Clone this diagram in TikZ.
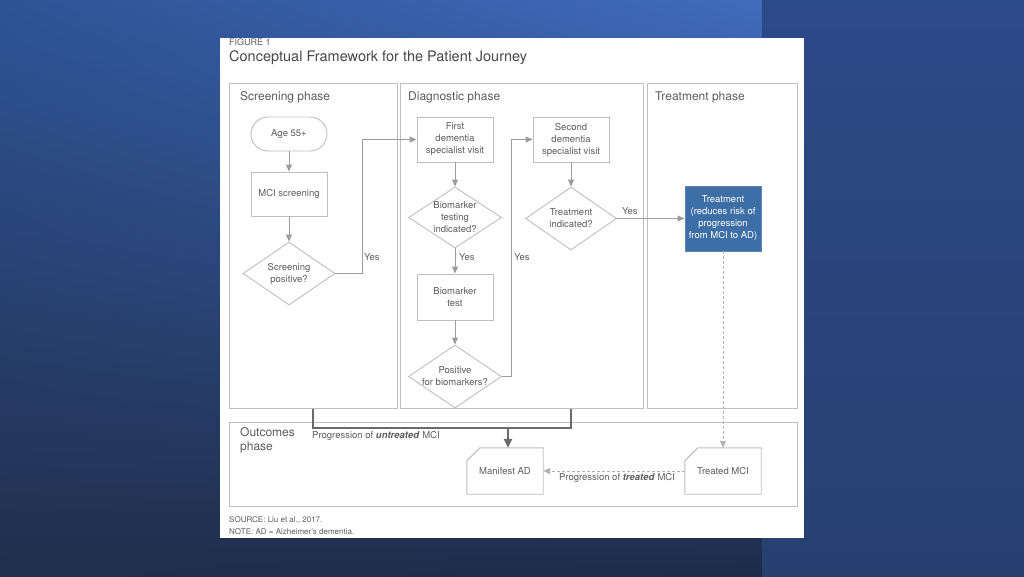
\documentclass[tikz,border=0pt]{standalone}
\usepackage{fontspec}
\setmainfont{TeX Gyre Heros}
\usetikzlibrary{arrows.meta,shapes.geometric,calc,shadings}
\definecolor{txt}{HTML}{5C5C5C}
\definecolor{ttl}{HTML}{474747}
\definecolor{bord}{HTML}{BEBEBE}
\definecolor{arr}{HTML}{9C9C9C}
\definecolor{thk}{HTML}{6A6A6A}
\definecolor{trtblue}{HTML}{3D6FA6}
\definecolor{trtbord}{HTML}{5B87B8}
\definecolor{bgul}{RGB}{46,84,150}
\definecolor{bgur}{RGB}{64,108,188}
\definecolor{bgll}{RGB}{33,46,76}
\definecolor{bglr}{RGB}{30,44,74}
\definecolor{rpt}{RGB}{43,74,136}
\definecolor{rpm}{RGB}{58,92,152}
\definecolor{rpb}{RGB}{40,64,112}
\begin{document}
\begin{tikzpicture}[x=1pt,y=-1pt,
  every node/.style={font=\fontsize{9.5}{12}\selectfont, text=txt},
  phasebox/.style={draw=bord, line width=0.9pt, anchor=north west, inner sep=0pt},
  phasetitle/.style={anchor=west, inner sep=0pt, font=\fontsize{12}{14}\selectfont, align=left},
  stepbox/.style={draw=bord, line width=0.9pt, minimum width=76pt, minimum height=45pt, align=center, inner sep=1pt},
  dec/.style={draw=bord, line width=0.9pt, diamond, inner sep=0pt, minimum width=92pt, minimum height=62pt},
  dectext/.style={align=center, inner sep=0pt},
  cardnode/.style={minimum width=76pt, minimum height=46pt, inner sep=0pt, align=center},
  cardline/.style={draw=bord, line width=0.9pt, line join=miter},
  flow/.style={draw=arr, line width=0.9pt, -{Triangle[length=7pt,width=6pt]}},
  dflow/.style={draw=bord!80!gray, line width=0.9pt, dash pattern=on 3pt off 2pt, -{Triangle[length=7pt,width=6pt]}},
  thickline/.style={draw=thk, line width=2.6pt},
  yes/.style={anchor=west, inner sep=0pt}
]
\useasboundingbox (0,0) rectangle (1024,576);
% background
\shade[upper left=bgul, upper right=bgur, lower left=bgll, lower right=bglr] (0,0) rectangle (762,576);
\shade[top color=rpt, middle color=rpm, bottom color=rpb] (762,0) rectangle (1024,576);
\fill[white] (220,38) rectangle (804,538);

% headings
\node[anchor=base west, inner sep=0pt, font=\fontsize{9}{10}\selectfont] (fig) at (229,45) {FIGURE 1};
\node[anchor=west, inner sep=0pt, text=ttl, font=\fontsize{14.5}{16}\selectfont] (title) at (229,58) {Conceptual Framework for the Patient Journey};

% phase boxes
\node[phasebox, minimum width=168pt, minimum height=325pt] (scr) at (229,83) {};
\node[phasebox, minimum width=243pt, minimum height=325pt] (dia) at (400,83) {};
\node[phasebox, minimum width=150pt, minimum height=325pt] (trp) at (647,83) {};
\node[phasebox, minimum width=568pt, minimum height=84pt] (out) at (229,422) {};
\node[phasetitle] (scrt) at (240,97) {Screening phase};
\node[phasetitle] (diat) at (408,97) {Diagnostic phase};
\node[phasetitle] (trpt) at (655,97) {Treatment phase};
\node[phasetitle] (outt) at (240,440) {Outcomes\\phase};

% screening nodes
\node[stepbox, minimum height=34pt, rounded corners=17pt] (age) at (289,134) {Age 55+};
\node[stepbox, minimum height=44pt] (mci) at (289,194) {MCI screening};
\node[dec, minimum height=63pt] (sp) at (289,273.5) {};
\node[dectext] (spt) at (sp.center) {Screening\\positive?};

% diagnostic nodes
\node[stepbox] (v1) at (455,139.5) {First\\dementia\\specialist visit};
\node[dec, minimum width=93pt, minimum height=61pt] (bti) at (455,217.5) {};
\node[dectext] (btit) at (bti.center) {Biomarker\\testing\\indicated?};
\node[stepbox, minimum height=46pt] (bt) at (455,297) {Biomarker\\test};
\node[dec, minimum width=93pt, minimum height=63pt] (pfb) at (455,376.5) {};
\node[dectext] (pfbt) at (pfb.center) {Positive\\for biomarkers?};
\node[stepbox] (v2) at (571,139.5) {Second\\dementia\\specialist visit};
\node[dec, minimum width=91pt, minimum height=63pt] (ti) at (571,218.5) {};
\node[dectext] (tit) at (ti.center) {Treatment\\indicated?};

% treatment node
\node[stepbox, minimum height=65pt, fill=trtblue, draw=trtbord, text=white] (tr) at (723,218.5) {Treatment\\(reduces risk of\\progression\\from MCI to AD)};

% outcome nodes
\node[cardnode] (mad) at (505,471) {Manifest AD};
\node[cardnode] (tmci) at (723,471) {Treated MCI};
\draw[cardline] ($(mad.north west)+(0,13)$) -- ($(mad.north west)+(13,0)$) -- (mad.north east) -- (mad.south east) -- (mad.south west) -- cycle;
\draw[cardline] ($(tmci.north west)+(0,13)$) -- ($(tmci.north west)+(13,0)$) -- (tmci.north east) -- (tmci.south east) -- (tmci.south west) -- cycle;

% connectors
\draw[flow] (age) -- (mci);
\draw[flow] (mci) -- (sp);
\draw[flow] (sp.east) -- ++(27,0) |- (v1.west);
\node[yes] (y1) at (364,257) {Yes};
\draw[flow] (v1) -- (bti);
\draw[flow] (bti) -- (bt);
\node[yes] (y2) at (459,257) {Yes};
\draw[flow] (bt) -- (pfb);
\draw[flow] (pfb.east) -- ++(9,0) |- (v2.west);
\node[yes] (y3) at (514,257) {Yes};
\draw[flow] (v2) -- (ti);
\draw[flow] (ti.east) -- (tr.west);
\node[yes] (y4) at (622,211) {Yes};
\draw[dflow] (tr) -- (tmci);
\draw[dflow] (tmci) -- (mad);
\node[inner sep=0pt] (ptl) at (617,478) {Progression of \textbf{\textit{treated}} MCI};

% untreated progression
\coordinate (ta) at (313,428);
\coordinate (tb) at (571,428);
\coordinate (tm) at (508,428);
\draw[thickline] (scr.south -| ta) -- (ta) -- (tb) -- (dia.south -| tb);
\draw[draw=thk, line width=2.6pt, -{Triangle[length=9pt,width=8pt]}] (tm) -- (tm |- mad.north);
\node[anchor=west, inner sep=0pt] (pul) at (312,436) {Progression of \textbf{\textit{untreated}} MCI};

% footer
\node[anchor=west, inner sep=0pt, font=\fontsize{8}{10}\selectfont] (src) at (229,520) {SOURCE: Liu et al., 2017.};
\node[anchor=west, inner sep=0pt, font=\fontsize{8}{10}\selectfont] (note) at (229,532) {NOTE: AD = Alzheimer’s dementia.};
\end{tikzpicture}
\end{document}
